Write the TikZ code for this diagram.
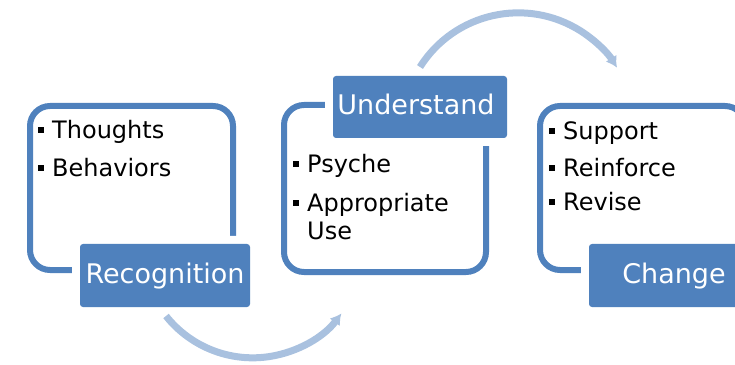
\documentclass[tikz,border=0pt]{standalone}
\usepackage{fontspec}
\setmainfont{DejaVu Sans}
\usetikzlibrary{arrows.meta}
\definecolor{oblue}{HTML}{4F81BD}
\definecolor{lblue}{HTML}{A9C1DF}
\begin{document}
\begin{tikzpicture}[x=1pt,y=1pt,
  outlinebox/.style={draw=oblue,line width=6pt,rounded corners=20pt},
  labelbox/.style={fill=oblue,rounded corners=3pt,inner sep=0pt,
    preaction={draw=white,line width=16pt},text=white,
    font=\fontsize{27}{30}\selectfont},
  item/.style={anchor=base west,inner sep=0pt,font=\fontsize{24}{28}\selectfont},
  flow/.style={draw=lblue,line width=7pt,-{Latex[length=11pt,width=13pt]}}]
\useasboundingbox (0,0) rectangle (735,364);
\clip (0,0) rectangle (735,364);
% outline boxes
\draw[outlinebox] (30,94) rectangle (233,258);
\draw[outlinebox] (284,92) rectangle (486,259);
\draw[outlinebox] (540,94) rectangle (745,258);
% label boxes
\node[labelbox,minimum width=170pt,minimum height=63pt] (rec) at (165,88.5) {};
\node[labelbox,minimum width=174pt,minimum height=62pt] (und) at (420,257) {};
\node[labelbox,minimum width=170pt,minimum height=63pt] (chg) at (674,88.5) {};
\node[anchor=base,inner sep=0pt,text=white,font=\fontsize{27}{30}\selectfont] (rect) at (165,81) {Recognition};
\node[anchor=base,inner sep=0pt,text=white,font=\fontsize{27}{30}\selectfont] (undt) at (416,249) {Understand};
\node[anchor=base,inner sep=0pt,text=white,font=\fontsize{27}{30}\selectfont] (chgt) at (674,81) {Change};
% bullet items
\newcommand{\bul}{\rule[6pt]{6pt}{6pt}\hspace{8pt}}
\node[item] (t1) at (38,225) {\bul Thoughts};
\node[item] (t2) at (38,187) {\bul Behaviors};
\node[item] (p1) at (293,191) {\bul Psyche};
\node[item] (p2) at (293,152) {\bul Appropriate};
\node[item] (p3) at (307,124) {Use};
\node[item] (s1) at (549,224) {\bul Support};
\node[item] (s2) at (549,187) {\bul Reinforce};
\node[item] (s3) at (549,153) {\bul Revise};
% arrows
\coordinate (a1) at (166,48);
\coordinate (a2) at (420,297);
\draw[flow] (a1) arc[start angle=218.5,end angle=323.2,radius=110.8];
\draw[flow] (a2) arc[start angle=147.7,end angle=31.9,radius=116.3];
\end{tikzpicture}
\end{document}
